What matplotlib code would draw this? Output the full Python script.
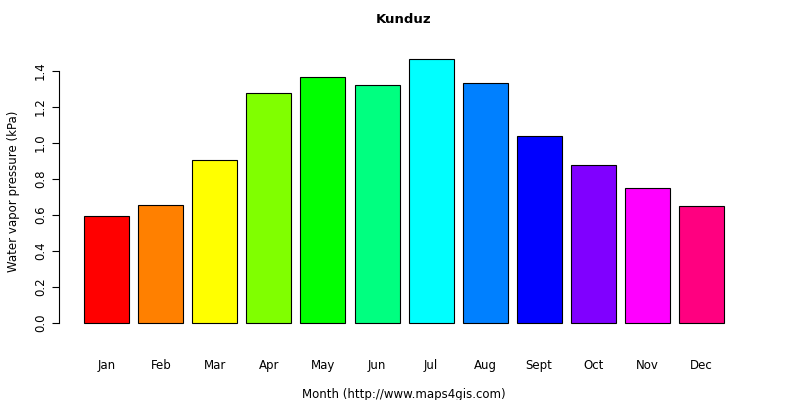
import matplotlib
matplotlib.use("Agg")
import matplotlib.pyplot as plt

months = ["Jan", "Feb", "Mar", "Apr", "May", "Jun", "Jul", "Aug", "Sept", "Oct", "Nov", "Dec"]
values = [0.594, 0.656, 0.906, 1.278, 1.367, 1.322, 1.467, 1.333, 1.039, 0.878, 0.75, 0.65]
colors = ["#FF0000", "#FF8000", "#FFFF00", "#80FF00", "#00FF00", "#00FF80",
          "#00FFFF", "#0080FF", "#0000FF", "#8000FF", "#FF00FF", "#FF0080"]
yticks = [0.0, 0.2, 0.4, 0.6, 0.8, 1.0, 1.2, 1.4]

fig = plt.figure(figsize=(8, 4), dpi=100)
ax = fig.add_axes([0.0734, 0.166, 0.8633, 0.713])
centers = [0.7 + 1.2 * i for i in range(len(values))]
ax.bar(centers, values, width=1.0, color=colors, edgecolor="black", linewidth=0.8)
ax.set_xlim(-0.368, 14.968)
ax.set_ylim(-0.0587, 1.526)

for s in ["top", "right", "bottom"]:
    ax.spines[s].set_visible(False)
ax.spines["left"].set_bounds(0, 1.4)
ax.set_yticks(yticks)
ax.set_yticklabels([f"{v:.1f}" for v in yticks], rotation=90, va="center", fontsize=8.5)
ax.tick_params(axis="y", length=5)
ax.set_xticks(centers)
ax.set_xticklabels(months, fontsize=8.5)
ax.tick_params(axis="x", length=0, pad=18)

ax.set_title("Kunduz", fontweight="bold", fontsize=9.5, pad=18)
ax.set_xlabel("Month (http://www.maps4gis.com)", fontsize=8.5, labelpad=12)
ax.set_ylabel("Water vapor pressure (kPa)", fontsize=8.5, labelpad=10)

fig.savefig("out.png", dpi=100)
